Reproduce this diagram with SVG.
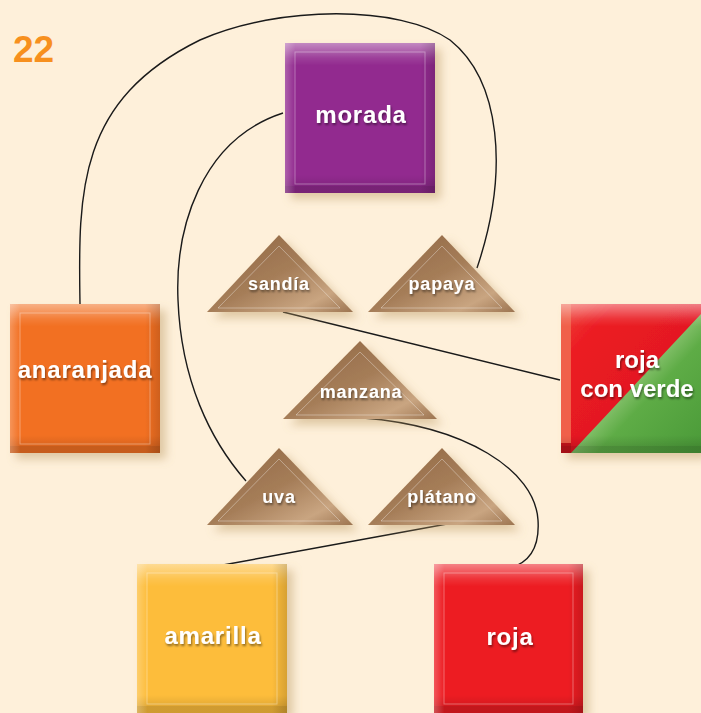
<svg xmlns="http://www.w3.org/2000/svg" width="701" height="713" viewBox="0 0 701 713">
<style>
.lbl{font-family:"Liberation Sans",Arial,sans-serif;font-weight:bold;fill:#ffffff;text-anchor:middle}
.big{font-size:24px;letter-spacing:0.8px}
.small{font-size:18px;letter-spacing:0.8px}
.con{fill:none;stroke:#1a1a1a;stroke-width:1.4}
.frame{fill:none;stroke:#ffffff;stroke-opacity:0.35;stroke-width:1}
</style>
<defs>
<filter id="sh" x="-10%" y="-10%" width="130%" height="130%">
<feDropShadow dx="6" dy="6" stdDeviation="5" flood-color="#b8955f" flood-opacity="0.45"/>
</filter>
<filter id="tsh" x="-10%" y="-20%" width="120%" height="160%">
<feDropShadow dx="1" dy="2" stdDeviation="1.2" flood-color="#000000" flood-opacity="0.45"/>
</filter>
<linearGradient id="gloss" x1="0" y1="0" x2="0" y2="1">
<stop offset="0" stop-color="#ffffff" stop-opacity="0.45"/>
<stop offset="0.1" stop-color="#ffffff" stop-opacity="0.1"/>
<stop offset="0.15" stop-color="#ffffff" stop-opacity="0"/>
<stop offset="0.88" stop-color="#000000" stop-opacity="0"/>
<stop offset="0.95" stop-color="#000000" stop-opacity="0.1"/>
<stop offset="0.955" stop-color="#000000" stop-opacity="0.18"/>
<stop offset="1" stop-color="#000000" stop-opacity="0.18"/>
</linearGradient>
<linearGradient id="side" x1="0" y1="0" x2="1" y2="0">
<stop offset="0" stop-color="#ffffff" stop-opacity="0.25"/>
<stop offset="0.07" stop-color="#ffffff" stop-opacity="0"/>
<stop offset="0.9" stop-color="#000000" stop-opacity="0"/>
<stop offset="1" stop-color="#000000" stop-opacity="0.15"/>
</linearGradient>
<linearGradient id="tri" x1="0" y1="0" x2="1" y2="1">
<stop offset="0" stop-color="#8f6542"/>
<stop offset="0.5" stop-color="#a57d58"/>
<stop offset="0.8" stop-color="#c9a581"/>
<stop offset="1" stop-color="#9c7450"/>
</linearGradient>
<linearGradient id="green" x1="0" y1="0" x2="1" y2="1">
<stop offset="0.4" stop-color="#9fcf85"/>
<stop offset="0.6" stop-color="#5eac46"/>
<stop offset="1" stop-color="#4a9a38"/>
</linearGradient>
<linearGradient id="red2" x1="0" y1="0" x2="1" y2="1">
<stop offset="0" stop-color="#f04a3c"/>
<stop offset="0.2" stop-color="#ec1c24"/>
<stop offset="1" stop-color="#d9141c"/>
</linearGradient>
</defs>
<rect width="701" height="713" fill="#fef0da"/>
<text x="13" y="62" style="font-family:'Liberation Sans',Arial,sans-serif;font-weight:bold;font-size:37px;fill:#f7901e">22</text>

<g id="connectors">
<path class="con" d="M80,304 C78,190 78,100 200,40 C280,5 400,5 450,40 C500,80 510,170 477,268"/>
<path class="con" d="M283,113 C200,140 175,230 178,300 C181,380 210,440 246,481"/>
<path class="con" d="M283,312 L560,380"/>
<path class="con" d="M363,418 C465,426 535,470 538,520 C540,550 528,563 510,568"/>
<path class="con" d="M447,524 L212,567"/>
</g>

<g id="morada">
<rect x="285" y="43" width="150" height="150" fill="#922b8f" filter="url(#sh)"/>
<rect x="285" y="43" width="150" height="150" fill="url(#gloss)"/>
<rect x="285" y="43" width="150" height="150" fill="url(#side)"/>
<rect class="frame" x="295" y="52" width="130" height="132"/>
<text class="lbl big" x="361" y="123" filter="url(#tsh)">morada</text>
</g>

<g id="anaranjada">
<rect x="10" y="304" width="150" height="149" fill="#f26f21" filter="url(#sh)"/>
<rect x="10" y="304" width="150" height="149" fill="url(#gloss)"/>
<rect x="10" y="304" width="150" height="149" fill="url(#side)"/>
<rect class="frame" x="20" y="313" width="130" height="131"/>
<text class="lbl big" x="85" y="378" filter="url(#tsh)">anaranjada</text>
</g>

<g id="roja-con-verde">
<rect x="561" y="304" width="140" height="149" fill="url(#red2)" filter="url(#sh)"/>
<polygon points="571,453 701,314 701,453" fill="url(#green)"/>
<rect x="561" y="304" width="10" height="149" fill="#f0604a"/>
<rect x="561" y="443" width="10" height="10" fill="#c8141c"/>
<rect x="561" y="304" width="140" height="149" fill="url(#gloss)"/>
<text class="lbl" x="637" y="368" style="font-size:24px" filter="url(#tsh)">roja</text>
<text class="lbl" x="637" y="397" style="font-size:24px" filter="url(#tsh)">con verde</text>
</g>

<g id="amarilla">
<rect x="137" y="564" width="150" height="149" fill="#fdbd3b" filter="url(#sh)"/>
<rect x="137" y="564" width="150" height="149" fill="url(#gloss)"/>
<rect x="137" y="564" width="150" height="149" fill="url(#side)"/>
<rect class="frame" x="147" y="573" width="130" height="131"/>
<text class="lbl big" x="213" y="644" filter="url(#tsh)">amarilla</text>
</g>

<g id="roja">
<rect x="434" y="564" width="149" height="149" fill="#ed1c24" filter="url(#sh)"/>
<rect x="434" y="564" width="149" height="149" fill="url(#gloss)"/>
<rect x="434" y="564" width="149" height="149" fill="url(#side)"/>
<rect class="frame" x="444" y="573" width="129" height="131"/>
<text class="lbl big" x="510" y="645" filter="url(#tsh)">roja</text>
</g>

<g id="sandia">
<polygon points="279,235 353,312 207,312" fill="url(#tri)" filter="url(#sh)"/>
<polygon points="279,246 340,308 218,308" class="frame"/>
<text class="lbl small" x="279" y="290" filter="url(#tsh)">sandía</text>
</g>

<g id="papaya">
<polygon points="442,235 515,312 368,312" fill="url(#tri)" filter="url(#sh)"/>
<polygon points="442,246 502,308 381,308" class="frame"/>
<text class="lbl small" x="442" y="290" filter="url(#tsh)">papaya</text>
</g>

<g id="manzana">
<polygon points="360,341 437,419 283,419" fill="url(#tri)" filter="url(#sh)"/>
<polygon points="360,352 424,415 296,415" class="frame"/>
<text class="lbl small" x="361" y="398" filter="url(#tsh)">manzana</text>
</g>

<g id="uva">
<polygon points="279,448 353,525 207,525" fill="url(#tri)" filter="url(#sh)"/>
<polygon points="279,459 340,521 218,521" class="frame"/>
<text class="lbl small" x="279" y="503" filter="url(#tsh)">uva</text>
</g>

<g id="platano">
<polygon points="442,448 515,525 368,525" fill="url(#tri)" filter="url(#sh)"/>
<polygon points="442,459 502,521 381,521" class="frame"/>
<text class="lbl small" x="442" y="503" filter="url(#tsh)">plátano</text>
</g>
</svg>
